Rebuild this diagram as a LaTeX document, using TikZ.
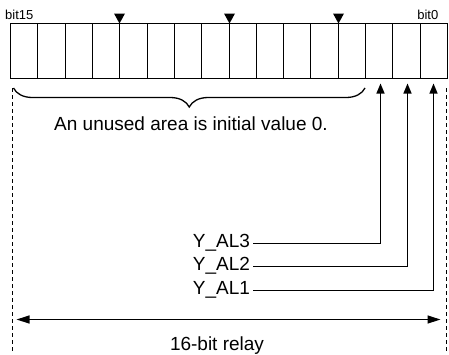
\documentclass[tikz,border=0pt]{standalone}
\usepackage{fontspec}
\setmainfont{Liberation Sans}
\usetikzlibrary{arrows.meta,decorations.pathreplacing,calc}
\begin{document}
\begin{tikzpicture}[x=1bp,y=1bp,
  cell/.style={minimum height=55bp, inner sep=0pt, outer sep=0pt},
  lbl/.style={font=\fontsize{19bp}{22bp}\selectfont, inner sep=0pt},
  small/.style={font=\fontsize{13bp}{15bp}\selectfont, inner sep=0pt},
  ylbl/.style={lbl, anchor=east, text height=8.4bp, text depth=0pt, outer xsep=3bp},
  conn/.style={line width=1.3bp},
  boxline/.style={line width=1.3bp},
  guide/.style={line width=1.3bp, dash pattern=on 4bp off 3bp},
  tip/.style={-{Triangle[length=10bp,width=8bp]}},
]
\useasboundingbox (0,0) rectangle (449,-354);
% register cells, c15 (left) ... c0 (right)
\foreach \i in {0,...,15}{
  \pgfmathsetmacro\L{floor(10.7+(15-\i)*27.29)+0.5}
  \pgfmathsetmacro\R{floor(10.7+(16-\i)*27.29)+0.5}
  \node[cell, minimum width={(\R-\L)*1bp}] (c\i) at ({(\L+\R)/2},-51) {};
}
\draw[boxline] (c15.north west) rectangle (c0.south east);
\foreach \i in {0,...,14}
  \draw[boxline] (c\i.north west) -- (c\i.south west);
% markers every 4 bits
\foreach \i in {11,7,3}
  \fill (c\i.north west) -- ++(-5.5,10) -- ++(11,0) -- cycle;
% bit labels
\node[small, anchor=base west] (b15) at (5,-19) {bit15};
\node[small, anchor=base east] (b0) at (438.5,-19) {bit0};
% dashed guides
\coordinate (gl) at (12.5,-88);
\coordinate (glb) at (12.5,-354);
\coordinate (gr) at (446.5,-88);
\coordinate (grb) at (446.5,-354);
\draw[guide] (gl) -- (glb);
\draw[guide] (gr) -- (grb);
% brace
\coordinate (brl) at (13.5,-88);
\coordinate (brr) at (365,-88);
\draw[conn, decorate, decoration={brace, mirror, amplitude=19bp}] (brl) -- (brr);
\node[lbl, anchor=base] (unused) at (191,-130) {An unused area is initial value 0.};
% signal labels
\node[ylbl] (y3) at (253,-243.5) {Y\_AL3};
\node[ylbl] (y2) at (253,-266.5) {Y\_AL2};
\node[ylbl] (y1) at (253,-290.5) {Y\_AL1};
\draw[conn, tip] (y3.east) -| ($(c2.south)+(1.5,-5)$);
\draw[conn, tip] (y2.east) -| ($(c1.south)+(1,-5)$);
\draw[conn, tip] (y1.east) -| ($(c0.south)+(-0.5,-5)$);
% width arrow
\coordinate (al) at (12.5,-319.5);
\coordinate (ar) at (446.5,-319.5);
\draw[conn, {Triangle[length=13bp,width=8bp]}-{Triangle[length=13bp,width=8bp]}, shorten <=4bp, shorten >=6bp] (al) -- (ar);
\node[lbl, anchor=base] (relay) at (217,-350) {16-bit relay};
\end{tikzpicture}
\end{document}
